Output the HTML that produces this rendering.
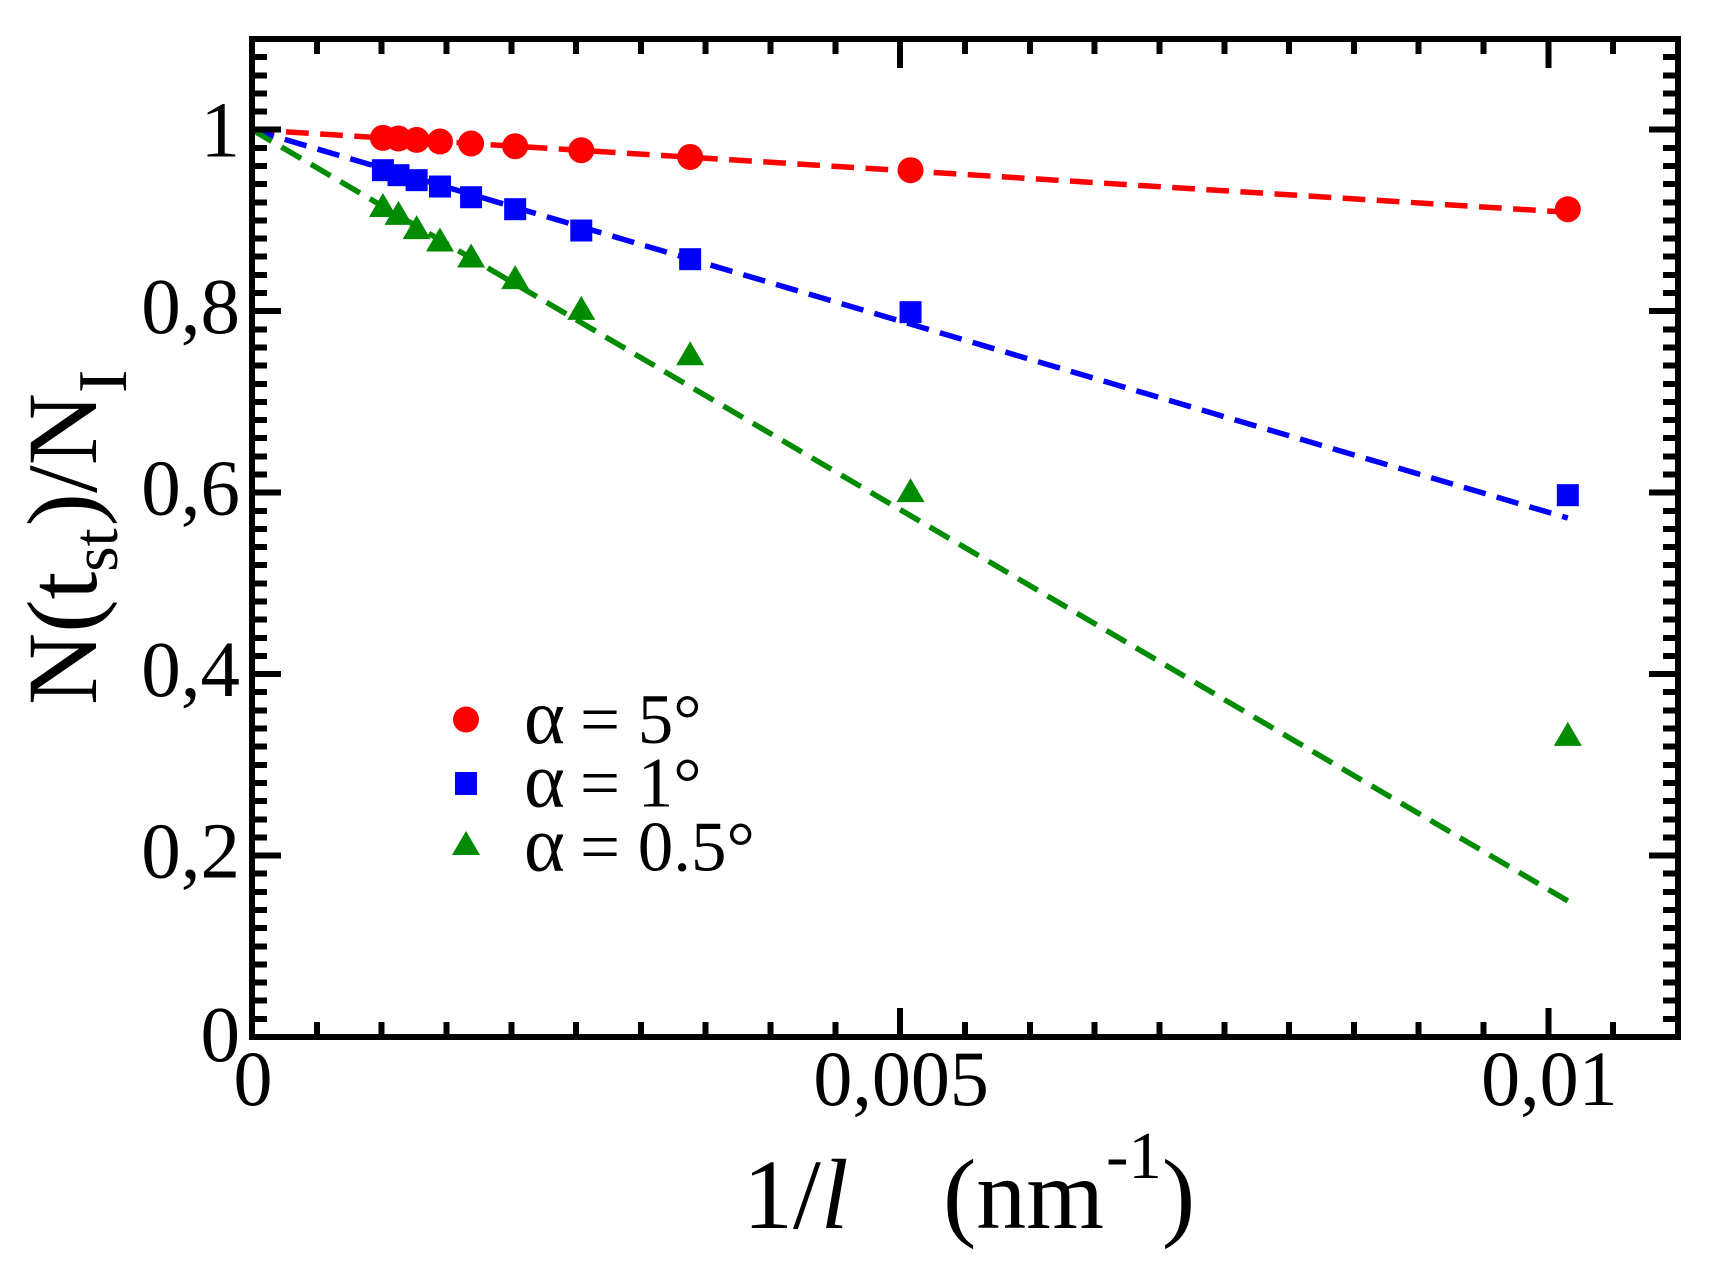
<!DOCTYPE html>
<html lang="en">
<head>
<meta charset="utf-8">
<title>N(tst)/NI versus 1/l</title>
<style>
  html, body { margin: 0; padding: 0; background: #fff; }
  svg { display: block; }
  text { font-family: "Liberation Serif", "Times New Roman", serif; fill: #000; }
</style>
</head>
<body>
<svg id="chart" xmlns="http://www.w3.org/2000/svg" width="1710" height="1274" viewBox="0 0 1710 1274">
  <rect x="0" y="0" width="1710" height="1274" fill="#fff"/>
  <g id="fit-lines"></g>
  <g id="ticks" shape-rendering="crispEdges"></g>
  <rect x="252" y="39" width="1426" height="998" fill="none" stroke="#000" stroke-width="6" shape-rendering="crispEdges"/>
  <g id="tick-labels" font-size="79"></g>
  <g id="markers"></g>

  <g>
    <circle cx="466" cy="719.5" r="13" fill="#ff0000"/>
    <rect x="455" y="772" width="22" height="23" fill="#0000ff"/>
    <polygon points="466,831 480,855 452,855" fill="#008b00"/>
    <text y="743" font-size="71"><tspan x="524" font-size="78">α</tspan><tspan x="580">= 5°</tspan></text>
    <text y="806.5" font-size="71"><tspan x="524" font-size="78">α</tspan><tspan x="580">= 1°</tspan></text>
    <text y="870.5" font-size="71"><tspan x="524" font-size="78">α</tspan><tspan x="580">= 0.5°</tspan></text>
  </g>

  <text transform="translate(96,705) rotate(-90)" font-size="100">N(t<tspan font-size="65" dy="21">st</tspan><tspan dx="2" dy="-21">)/N</tspan><tspan font-size="70" dy="30">I</tspan></text>

  <text y="1228" font-size="100"><tspan x="743">1/</tspan><tspan font-style="italic">l</tspan><tspan x="943">(nm</tspan><tspan font-size="67" dx="2" dy="-50">-1</tspan><tspan dy="50">)</tspan></text>
</svg>

<script>
// ---- data ----
const xValues = [0.00101, 0.00113, 0.00127, 0.00145, 0.00169, 0.00203, 0.00254, 0.00338, 0.00508, 0.01015];
const alpha5Values = [0.9910, 0.9903, 0.9888, 0.9870, 0.9848, 0.9818, 0.9774, 0.9700, 0.9554, 0.9124];
const alpha1Values = [0.9554, 0.9499, 0.9444, 0.9374, 0.9256, 0.9124, 0.8889, 0.8573, 0.7989, 0.5972];
const alpha05Values = [0.9171, 0.9083, 0.8926, 0.8790, 0.8614, 0.8375, 0.8036, 0.7537, 0.6028, 0.3341];

const fitX = [0, 0.01015];
const alpha5Fit = [1, 0.909];
const alpha1Fit = [1, 0.572];
const alpha05Fit = [1, 0.150];

const xTickValues = [0, 0.005, 0.01];
const xTickLabels = ['0', '0,005', '0,01'];
const yTickValues = [0, 0.2, 0.4, 0.6, 0.8, 1];
const yTickLabels = ['0', '0,2', '0,4', '0,6', '0,8', '1'];

// ---- axes ----
const X_MAX = 0.011, Y_MAX = 1.1;
const LEFT = 252, RIGHT = 1678, TOP = 39, BOTTOM = 1037;
const SVG_NS = 'http://www.w3.org/2000/svg';
function xScale(v) { return LEFT + (v / X_MAX) * (RIGHT - LEFT); }
function yScale(v) { return BOTTOM - (v / Y_MAX) * (BOTTOM - TOP); }
function svgEl(tag, parent) {
  const el = document.createElementNS(SVG_NS, tag);
  parent.appendChild(el);
  return el;
}

// ---- fit lines ----
const lineGroup = document.getElementById('fit-lines');
function drawFit(values, color, name) {
  const el = svgEl('polyline', lineGroup);
  
  
  el.setAttribute('points', values.map((v, i) => xScale(fitX[i]) + ',' + yScale(v)).join(' '));
  el.setAttribute('fill', 'none');
  el.setAttribute('stroke', color);
  el.setAttribute('stroke-width', '5.5');
  el.setAttribute('stroke-dasharray', '22.7 11.45');
}
drawFit(alpha5Fit, '#ff0000', 'fit-line-alpha-5');
drawFit(alpha1Fit, '#0000ff', 'fit-line-alpha-1');
drawFit(alpha05Fit, '#008b00', 'fit-line-alpha-0-5');

// ---- ticks ----
const tickGroup = document.getElementById('ticks');
function drawTick(x1, y1, x2, y2, name) {
  const el = svgEl('line', tickGroup);
  
  
  el.setAttribute('x1', x1);
  el.setAttribute('y1', y1);
  el.setAttribute('x2', x2);
  el.setAttribute('y2', y2);
  el.setAttribute('stroke', '#000');
  el.setAttribute('stroke-width', '6');
}
for (let i = 1; i < 22; i++) {
  const px = xScale(i * 0.0005);
  const len = i % 10 === 0 ? 29 : 15;
  drawTick(px, BOTTOM, px, BOTTOM - len, 'x-tick-bottom');
  drawTick(px, TOP, px, TOP + len, 'x-tick-top');
}
for (let i = 1; i < 55; i++) {
  const py = yScale(i * 0.02);
  const len = i % 10 === 0 ? 29 : 15;
  drawTick(LEFT, py, LEFT + len, py, 'y-tick-left');
  drawTick(RIGHT, py, RIGHT - len, py, 'y-tick-right');
}

// ---- tick labels ----
const labelGroup = document.getElementById('tick-labels');
xTickValues.forEach((v, i) => {
  const el = svgEl('text', labelGroup);
  
  
  el.setAttribute('x', xScale(v) + 1);
  el.setAttribute('y', 1105);
  el.setAttribute('text-anchor', 'middle');
  el.setAttribute('font-size', '78');
  el.textContent = xTickLabels[i];
});
yTickValues.forEach((v, i) => {
  const el = svgEl('text', labelGroup);
  const drop = v === 1 ? 27 : (v === 0 ? 24 : 22);
  
  
  el.setAttribute('x', 240);
  el.setAttribute('y', yScale(v) + drop);
  el.setAttribute('text-anchor', 'end');
  el.textContent = yTickLabels[i];
});

// ---- markers ----
const markerGroup = document.getElementById('markers');
alpha5Values.forEach((v, i) => {
  const el = svgEl('circle', markerGroup);
  
  
  el.setAttribute('cx', xScale(xValues[i]));
  el.setAttribute('cy', yScale(v));
  el.setAttribute('r', 13);
  el.setAttribute('fill', '#ff0000');
});
alpha1Values.forEach((v, i) => {
  const el = svgEl('rect', markerGroup);
  
  
  el.setAttribute('x', xScale(xValues[i]) - 11);
  el.setAttribute('y', yScale(v) - 11);
  el.setAttribute('width', 22);
  el.setAttribute('height', 22);
  el.setAttribute('fill', '#0000ff');
});
alpha05Values.forEach((v, i) => {
  const el = svgEl('polygon', markerGroup);
  const cx = xScale(xValues[i]);
  const cy = yScale(v);
  
  
  el.setAttribute('points', cx + ',' + (cy - 12) + ' ' + (cx + 14) + ',' + (cy + 12) + ' ' + (cx - 14) + ',' + (cy + 12));
  el.setAttribute('fill', '#008b00');
});
</script>
</body>
</html>
